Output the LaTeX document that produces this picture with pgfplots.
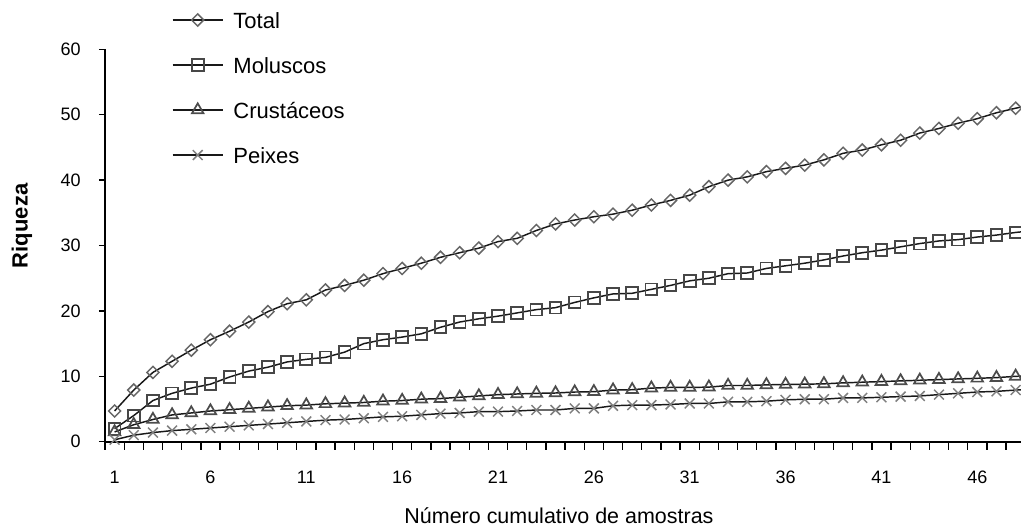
\documentclass[border=0pt]{standalone}
\usepackage{fontspec}
\setmainfont{Liberation Sans}
\usepackage{pgfplots}
\pgfplotsset{compat=1.18}
\usepackage{pgfplotstable}

\pgfplotstableread{
n total mol crus pei
1 4.7 2.0 1.5 0.3
2 7.9 4.0 2.6 1.0
3 10.6 6.3 3.4 1.4
4 12.3 7.4 4.1 1.7
5 14.0 8.2 4.4 1.9
6 15.6 8.8 4.7 2.1
7 16.9 9.9 4.9 2.3
8 18.3 10.8 5.1 2.5
9 19.9 11.4 5.3 2.7
10 21.1 12.2 5.5 2.9
11 21.7 12.6 5.6 3.1
12 23.2 12.9 5.8 3.3
13 23.9 13.7 5.9 3.4
14 24.7 15.0 6.0 3.6
15 25.7 15.6 6.2 3.8
16 26.5 16.0 6.3 3.9
17 27.3 16.5 6.5 4.1
18 28.2 17.5 6.6 4.3
19 28.9 18.3 6.8 4.4
20 29.6 18.8 7.0 4.6
21 30.6 19.2 7.2 4.6
22 31.1 19.7 7.3 4.7
23 32.3 20.2 7.4 4.85
24 33.3 20.5 7.45 4.85
25 33.9 21.3 7.6 5.1
26 34.4 22.0 7.65 5.1
27 34.8 22.6 7.9 5.5
28 35.4 22.7 7.95 5.6
29 36.2 23.3 8.2 5.6
30 36.9 23.9 8.3 5.7
31 37.7 24.6 8.3 5.85
32 39.0 25.0 8.35 5.85
33 40.0 25.7 8.6 6.1
34 40.5 25.8 8.6 6.1
35 41.3 26.5 8.7 6.2
36 41.8 26.9 8.75 6.4
37 42.3 27.3 8.8 6.5
38 43.1 27.8 8.85 6.5
39 44.1 28.4 9.0 6.7
40 44.6 28.9 9.1 6.7
41 45.4 29.3 9.2 6.8
42 46.1 29.8 9.3 6.9
43 47.2 30.3 9.4 7.0
44 47.9 30.7 9.5 7.2
45 48.7 30.9 9.6 7.4
46 49.4 31.3 9.7 7.6
47 50.3 31.6 9.8 7.7
48 51.0 32.0 10.0 7.9
49 51.6 32.3 10.1 8.0
}\datatable

\begin{document}
\begin{tikzpicture}
\begin{axis}[
  scale only axis, width=687pt, height=294.3pt,
  xmin=0.5, xmax=48.28, ymin=0, ymax=60,
  clip=false,
  axis lines=left,
  axis line style={-, line width=1.5pt, black},
  xtick={1,6,...,46}, ytick={0,10,...,60},
  minor xtick={0.5,1.5,...,47.5},
  tick align=outside,
  major tick length=4.5pt,
  minor tick length=6pt,
  major x tick style={draw=none},
  minor x tick style={black, line width=1pt},
  major y tick style={black, line width=1pt},
  /pgf/number format/assume math mode=true,
  tick label style={font=\fontsize{13.5}{16}\selectfont, black},
  yticklabel style={inner sep=0pt, xshift=-13.5pt},
  xticklabel style={inner sep=0pt, anchor=north, yshift=-17.5pt},
  xlabel={Número cumulativo de amostras},
  xlabel style={at={(axis description cs:0.4956,0)}, anchor=base, yshift=-61pt, inner sep=0pt, font=\fontsize{16.1}{18}\selectfont},
  ylabel={Riqueza},
  ylabel style={at={([xshift=-58pt]axis description cs:0,0.55)}, anchor=base, inner sep=0pt, font=\fontsize{16.5}{18}\selectfont\bfseries},
  legend cell align=left,
  legend style={at={(axis description cs:0.07314,1.1019)}, anchor=north west,
    draw=none, fill=none, inner sep=0pt, outer sep=0pt, row sep=17.75pt,
    font=\fontsize{16.5}{18}\selectfont,
    nodes={inner sep=0pt, text height=14pt, text depth=2pt},
    /tikz/every odd column/.append style={column sep=7.5pt}},
  legend image code/.code={\draw[mark repeat=2,mark phase=2] plot coordinates {(0pt,0pt) (18.75pt,0pt) (37.5pt,0pt)};},
]
\addplot[line width=1.1pt, color=black!90, mark=square, mark size=3.2pt,
  mark options={rotate=45, draw=black!60, line width=1.1pt, solid}]
  table[x=n, y=total]{\datatable};
\addlegendentry{Total}
\addplot[line width=1.1pt, color=black!90, mark=square, mark size=4.4pt,
  mark options={draw=black!72, line width=1.4pt, solid}]
  table[x=n, y=mol]{\datatable};
\addlegendentry{Moluscos}
\addplot[line width=1.1pt, color=black!90, mark=triangle, mark size=5pt,
  mark options={draw=black!70, line width=1.3pt, solid}]
  table[x=n, y=crus]{\datatable};
\addlegendentry{Crustáceos}
\addplot[line width=1.1pt, color=black!90, mark=x, mark size=5.2pt,
  mark options={draw=black!50, line width=1.1pt, solid}]
  table[x=n, y=pei]{\datatable};
\addlegendentry{Peixes}
\end{axis}
\pgfresetboundingbox
\useasboundingbox (-78.75pt,-65.475pt) rectangle (687pt,331.3pt);
\end{tikzpicture}
\end{document}
